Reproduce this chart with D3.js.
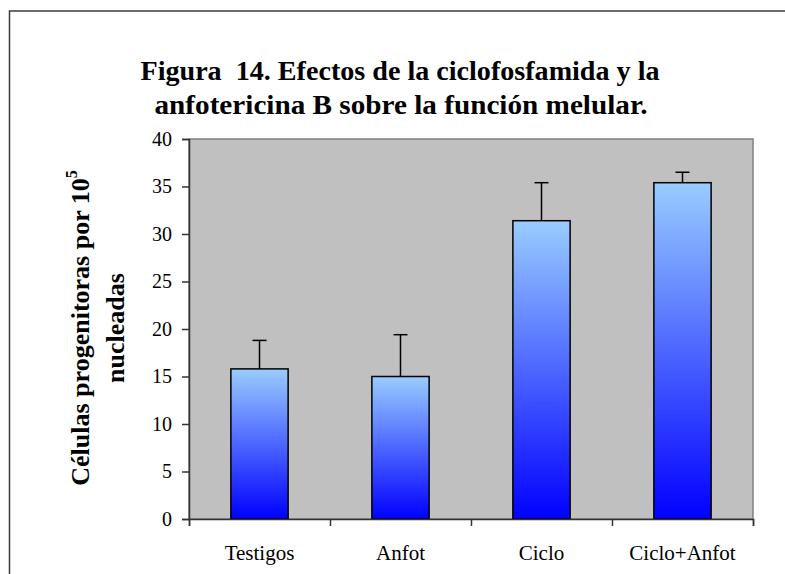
<!DOCTYPE html>
<html>
<head>
<meta charset="utf-8">
<script src="https://cdn.jsdelivr.net/npm/d3@7"></script>
<style>
  body { margin: 0; background: #fff; }
  svg text { font-family: "Liberation Serif", "Times New Roman", serif; fill: #000; }
  .axis path, .axis line { stroke: #333; stroke-width: 1.5; }
</style>
</head>
<body>
<script>
// data
var categories = ["Testigos", "Anfot", "Ciclo", "Ciclo+Anfot"];
var means = [15.8, 15.0, 31.4, 35.4];
var errUp = [3.0, 4.4, 4.0, 1.1];
var yTicks = [0, 5, 10, 15, 20, 25, 30, 35, 40];

var svgWidth = 785;
var svgHeight = 574;
var plotLeft = 189, plotRight = 753, plotTop = 139, plotBottom = 519;

var svg = d3.select("body")
            .append("svg")
            .attr("width", svgWidth)
            .attr("height", svgHeight);

// gradient for the bars
var grad = svg.append("defs").append("linearGradient")
    .attr("id", "barGrad")
    .attr("x1", 0).attr("y1", 0).attr("x2", 0).attr("y2", 1);
grad.append("stop").attr("offset", "0%").attr("stop-color", "#99ccff");
grad.append("stop").attr("offset", "100%").attr("stop-color", "#0000ff");

// outer frame
svg.append("rect")
   .attr("x", 9.5).attr("y", 11)
   .attr("width", 820).attr("height", 620)
   .attr("fill", "none")
   .attr("stroke", "#3a3a3a")
   .attr("stroke-width", 1.5);

// scales
var xScale = d3.scaleBand()
               .domain(categories)
               .range([plotLeft, plotRight])
               .paddingInner(0.594)
               .paddingOuter(0.297);

var xEdge = d3.scaleLinear()
              .domain([0, categories.length])
              .range([plotLeft, plotRight]);

var yScale = d3.scaleLinear()
               .domain([0, 40])
               .range([plotBottom, plotTop]);

// plot area
svg.append("rect")
   .attr("x", plotLeft).attr("y", plotTop)
   .attr("width", plotRight - plotLeft)
   .attr("height", plotBottom - plotTop)
   .attr("fill", "#c0c0c0")
   .attr("stroke", "#808080")
   .attr("stroke-width", 1.5);

// error bars (upper only)
var eb = svg.selectAll("g.err")
   .data(categories)
   .enter()
   .append("g")
   .attr("class", "err")
   .attr("stroke", "#000")
   .attr("stroke-width", 1.5);

eb.append("line")
  .attr("x1", (d) => xScale(d) + xScale.bandwidth() / 2)
  .attr("x2", (d) => xScale(d) + xScale.bandwidth() / 2)
  .attr("y1", (d, i) => yScale(means[i]))
  .attr("y2", (d, i) => yScale(means[i] + errUp[i]));

eb.append("line")
  .attr("x1", (d) => xScale(d) + xScale.bandwidth() / 2 - 7)
  .attr("x2", (d) => xScale(d) + xScale.bandwidth() / 2 + 7)
  .attr("y1", (d, i) => yScale(means[i] + errUp[i]))
  .attr("y2", (d, i) => yScale(means[i] + errUp[i]));

// bars
svg.selectAll("rect.bar")
   .data(categories)
   .enter()
   .append("rect")
   .attr("class", "bar")
   .attr("x", (d) => xScale(d))
   .attr("y", (d, i) => yScale(means[i]))
   .attr("width", xScale.bandwidth())
   .attr("height", (d, i) => plotBottom - yScale(means[i]))
   .attr("fill", "url(#barGrad)")
   .attr("stroke", "#000")
   .attr("stroke-width", 1.5);

// Y axis
var yAxis = d3.axisLeft(yScale)
              .tickValues(yTicks)
              .tickSize(7)
              .tickPadding(10);

svg.append("g")
   .attr("class", "axis")
   .attr("transform", "translate(" + plotLeft + ",0)")
   .call(yAxis)
   .call(g => g.selectAll("text").style("font-size", "20px"));

// X axis: tick marks on category edges, labels under centres
var xAxis = d3.axisBottom(xEdge)
              .tickValues(d3.range(categories.length + 1))
              .tickSize(7)
              .tickFormat("");

svg.append("g")
   .attr("class", "axis")
   .attr("transform", "translate(0," + plotBottom + ")")
   .call(xAxis);

svg.append("g")
   .attr("transform", "translate(0," + plotBottom + ")")
   .call(d3.axisBottom(xScale).tickSize(0).tickPadding(26))
   .call(g => g.select(".domain").remove())
   .call(g => g.selectAll("text").style("font-size", "21px"));

// title
var title = svg.append("g")
   .attr("font-weight", "bold")
   .attr("font-size", "28px")
   .attr("text-anchor", "middle");

title.append("text")
   .attr("x", 400).attr("y", 80)
   .attr("textLength", 519)
   .attr("lengthAdjust", "spacingAndGlyphs")
   .style("white-space", "pre")
   .text("Figura  14. Efectos de la ciclofosfamida y la");

title.append("text")
   .attr("x", 401).attr("y", 114)
   .attr("textLength", 493)
   .attr("lengthAdjust", "spacingAndGlyphs")
   .text("anfotericina B sobre la función melular.");

// y axis title
var yTitle = svg.append("g")
   .attr("transform", "translate(0,328) rotate(-90)")
   .attr("font-weight", "bold")
   .attr("font-size", "26px")
   .attr("text-anchor", "middle");

var l1 = yTitle.append("text")
   .attr("x", 0).attr("y", 89);
l1.append("tspan").text("Células progenitoras por 10");
l1.append("tspan")
  .attr("font-size", "16px")
  .attr("dy", -12)
  .text("5");

yTitle.append("text")
   .attr("x", 0).attr("y", 124)
   .text("nucleadas");
</script>
</body>
</html>
